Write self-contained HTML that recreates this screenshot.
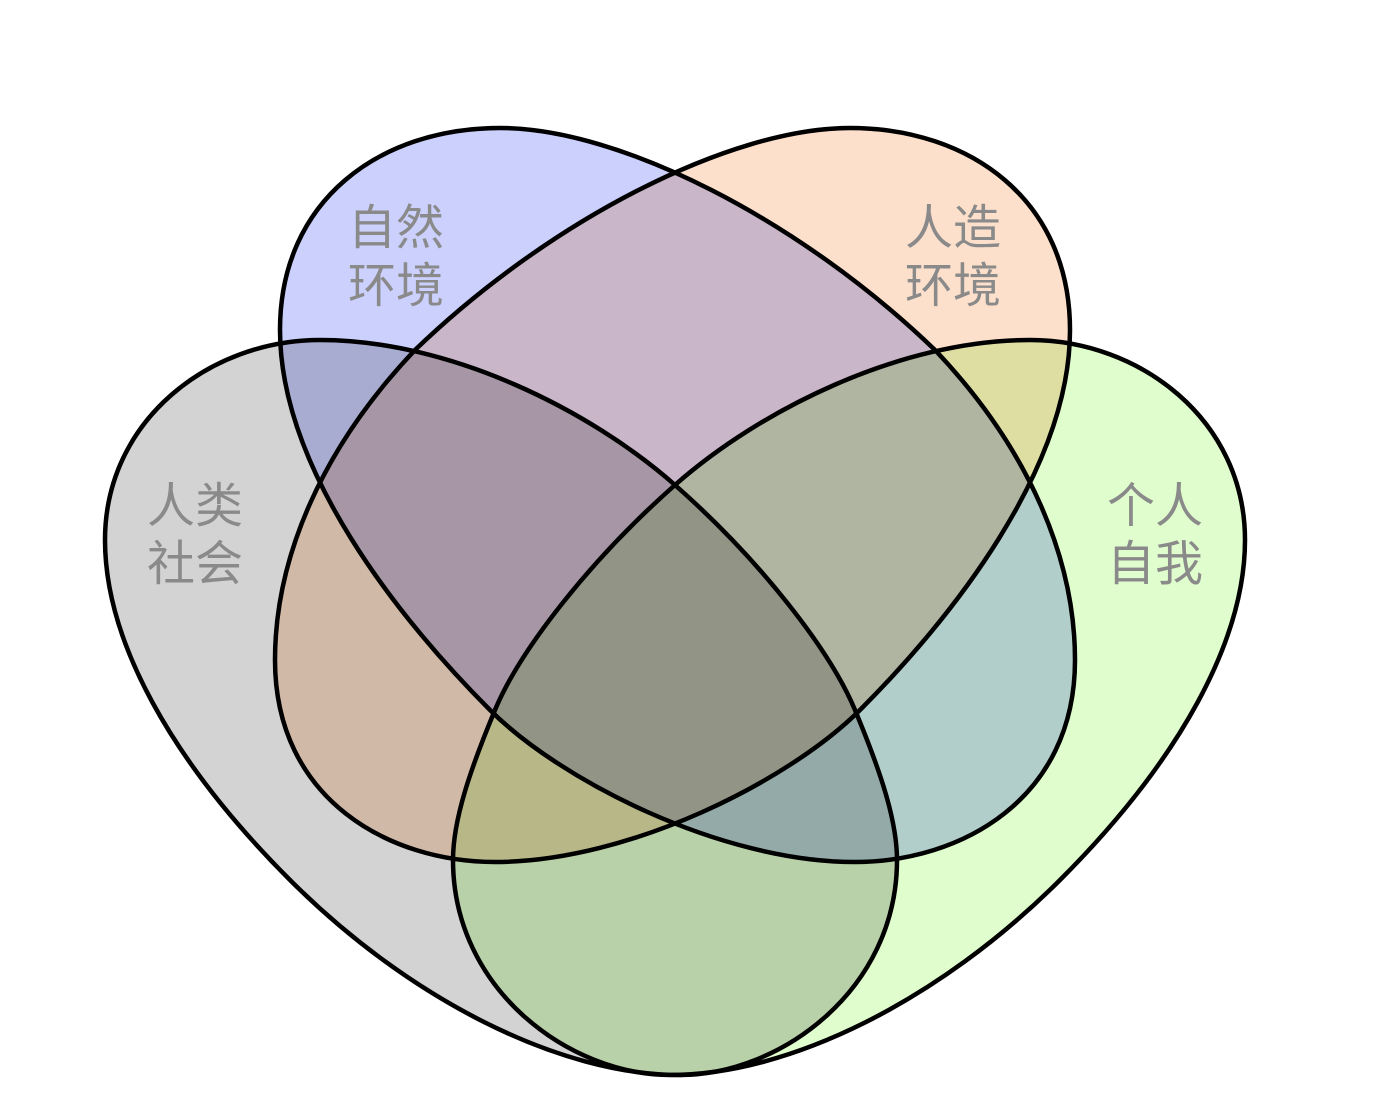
<!DOCTYPE html>
<html><head><meta charset="utf-8"><style>
html,body{margin:0;padding:0;background:#fff;}
svg{display:block;}
text{font-family:"Liberation Sans","Noto Sans CJK SC",sans-serif;font-size:48px;fill:#8a8a8a;text-anchor:middle;}
.m{mix-blend-mode:multiply;}
</style></head><body>
<svg width="1400" height="1120" viewBox="0 0 1400 1120" xmlns="http://www.w3.org/2000/svg">
<defs>
<path id="ell" d="M 280 330 C 280 200, 380 128, 500 128 C 620 128, 800 220, 935 350 C 1030 450, 1075 560, 1075 660 C 1075 800, 960 862, 855 862 C 720 862, 560 780, 490 710 C 400 620, 280 470, 280 330 Z"/>
<path id="tear" d="M 105 540 C 105 420, 210 340, 320 340 C 450 340, 590 410, 675 485 C 760 560, 830 650, 855 710 C 880 770, 897 820, 897 860 C 897 990, 780 1075, 680 1075 C 560 1075, 410 1000, 290 880 C 170 760, 105 640, 105 540 Z"/>
</defs>
<rect width="1400" height="1120" fill="#fff"/>
<g style="isolation:isolate">
<use class="m" href="#tear" fill="#d3d3d3"/>
<use class="m" href="#tear" transform="translate(1350,0) scale(-1,1)" fill="#e0fdcd"/>
<use class="m" href="#ell" fill="#cbd0fd"/>
<use class="m" href="#ell" transform="translate(1350,0) scale(-1,1)" fill="#fde0cb"/>
</g>
<g fill="none" stroke="#000" stroke-width="4.5">
<use href="#tear"/>
<use href="#tear" transform="translate(1350,0) scale(-1,1)"/>
<use href="#ell"/>
<use href="#ell" transform="translate(1350,0) scale(-1,1)"/>
</g>
<text x="396" y="244">自然</text>
<text x="396" y="302">环境</text>
<text x="953" y="244">人造</text>
<text x="953" y="302">环境</text>
<text x="195" y="522">人类</text>
<text x="195" y="580">社会</text>
<text x="1155" y="522">个人</text>
<text x="1155" y="580">自我</text>
</svg>
</body></html>
